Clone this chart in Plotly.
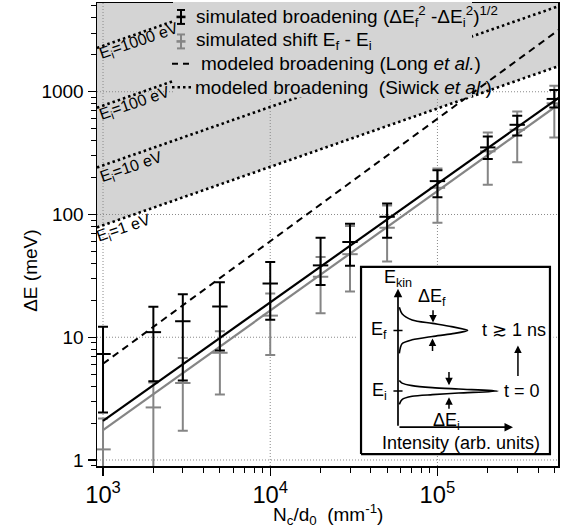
import numpy as np
import plotly.graph_objects as go

# ---------------- data ----------------
N = [1e3, 2e3, 3e3, 5e3, 1e4, 2e4, 3e4, 5e4, 1e5, 2e5, 3e5, 5e5]
broad = [7.3, 11.0, 13.5, 17.8, 27.4, 38.5, 59.7, 95.8, 187, 352, 538, 874]
broad_hi = [12.2, 17.7, 22.4, 28.0, 41.1, 64.7, 84, 123, 229, 432, 637, 1033]
broad_lo = [2.44, 4.37, 4.45, 7.8, 13.9, 26.6, 38.2, 64.7, 138, 283, 440, 743]
shift = [1.22, 2.68, 4.24, 7.47, 15.0, 31.1, 47.5, 78, 165, 327, 490, 805]
shift_hi = [2.18, 4.27, 6.76, 11.2, 22.7, 45.1, 80.5, 118.5, 237, 466, 690, 1120]
shift_lo = [0.5, 0.5, 1.73, 3.41, 7.15, 15.7, 23.6, 41.4, 85.7, 175, 266, 424]

fit_N = [1e3, 5.3e5]
fit_broad = [2.08, 891]
fit_shift = [1.75, 787]
long_N = [1e3, 5.3e5]
long_model = [6.08, 3185]

siwick_N = [920, 5.3e5]
siwick_Ei = ["1", "10", "100", "1000"]
siwick_vals = {
    "1": [78.5, 1617],
    "10": [241.5, 4980],
    "100": [741, 15280],
    "1000": [2275, 46900],
}
siwick_label_logN = {"1": 3.125, "10": 3.168, "100": 3.193, "1000": 3.213}
siwick_label_shift = {"1": -11, "10": -11.5, "100": -9.5, "1000": -8.5}

x_ticks = [1e3, 1e4, 1e5]
y_ticks = [1, 10, 100, 1000]

# inset schematic (intensity, energy offset from peak centre)
peak_f_I = [0.013, 0.04, 0.14, 0.34, 0.53, 0.69, 0.53, 0.34, 0.14, 0.04, 0.013]
peak_f_dE = [0.38, 0.275, 0.172, 0.116, 0.062, 0.0, -0.057, -0.10, -0.156, -0.22, -0.38]
peak_i_I = [0.013, 0.04, 0.14, 0.34, 0.60, 0.99, 0.60, 0.34, 0.14, 0.04, 0.013]
peak_i_dE = [0.175, 0.131, 0.089, 0.056, 0.033, 0.0, -0.033, -0.059, -0.087, -0.141, -0.22]
E_f_level = 2.0
E_i_level = 1.0

# ---------------- geometry ----------------
XR = [2.964, 5.721]
YR = [-0.049, 3.723]
FONT = "Liberation Sans, Arial, sans-serif"
GRAY_FILL = "#d4d4d4"
GRAY = "#858585"

fig = go.Figure()

# shaded region above the Ei = 1 eV line
top = 10 ** (YR[1] + 0.5)
fig.add_trace(go.Scatter(
    x=[siwick_N[0], siwick_N[1], siwick_N[1], siwick_N[0]],
    y=[siwick_vals["1"][0], siwick_vals["1"][1], top, top],
    fill="toself", fillcolor=GRAY_FILL, line=dict(width=0), mode="lines",
    hoverinfo="skip", showlegend=False))

# grid lines (drawn as traces so they sit above the shading)
xl, xh = 10 ** XR[0], 10 ** XR[1]
yl, yh = 10 ** YR[0], 10 ** YR[1]
gx, gy = [], []
for t in x_ticks:
    gx += [t, t, None]
    gy += [yl, yh, None]
for t in y_ticks:
    gx += [xl, xh, None]
    gy += [t, t, None]
fig.add_trace(go.Scatter(x=gx, y=gy, mode="lines",
                         line=dict(color="#8a8a8a", width=1, dash="1px,2px"),
                         hoverinfo="skip", showlegend=False))

# Siwick lines
for e in siwick_Ei:
    fig.add_trace(go.Scatter(x=siwick_N, y=siwick_vals[e], mode="lines",
                             line=dict(color="black", width=2.6, dash="2.5px,3px"),
                             showlegend=False))

# Long model
fig.add_trace(go.Scatter(x=long_N, y=long_model, mode="lines",
                         line=dict(color="black", width=2, dash="7px,5px"),
                         showlegend=False))

# shift data (gray)
fig.add_trace(go.Scatter(
    x=N, y=shift, mode="markers",
    marker=dict(symbol="line-ew", size=11, line=dict(color=GRAY, width=2)),
    error_y=dict(type="data", symmetric=False,
                 array=[h - v for h, v in zip(shift_hi, shift)],
                 arrayminus=[v - l for v, l in zip(shift, shift_lo)],
                 color=GRAY, thickness=2, width=5),
    showlegend=False))
fig.add_trace(go.Scatter(x=fit_N, y=fit_shift, mode="lines",
                         line=dict(color=GRAY, width=2.2), showlegend=False))

# broadening data (black)
fig.add_trace(go.Scatter(
    x=N, y=broad, mode="markers",
    marker=dict(symbol="line-ew", size=11, line=dict(color="black", width=2)),
    error_y=dict(type="data", symmetric=False,
                 array=[h - v for h, v in zip(broad_hi, broad)],
                 arrayminus=[v - l for v, l in zip(broad, broad_lo)],
                 color="black", thickness=2, width=5),
    showlegend=False))
fig.add_trace(go.Scatter(x=fit_N, y=fit_broad, mode="lines",
                         line=dict(color="black", width=2.2), showlegend=False))

annotations = []
# Siwick labels
for e in siwick_Ei:
    lx = siwick_label_logN[e]
    a0, a1 = np.log10(siwick_N)
    b0, b1 = np.log10(siwick_vals[e])
    ly = b0 + (b1 - b0) * (lx - a0) / (a1 - a0)
    annotations.append(dict(
        x=lx, y=ly, xref="x", yref="y", text=f"E<sub>i</sub>={e} eV",
        showarrow=False, textangle=-19, yshift=siwick_label_shift[e],
        font=dict(family=FONT, size=16, color="black"),
        xanchor="center", yanchor="middle"))

# ---------------- inset ----------------
IX = [-0.40, 1.54]
IY = [-0.07, 3.08]
box_x = [-0.366, 1.505, 1.505, -0.366, -0.366]
box_y = [-0.039, -0.039, 3.048, 3.048, -0.039]
fig.add_trace(go.Scatter(x=box_x, y=box_y, xaxis="x2", yaxis="y2", mode="lines",
                         fill="toself", fillcolor="white",
                         line=dict(color="black", width=2.2), showlegend=False))
fig.add_trace(go.Scatter(x=peak_f_I, y=[E_f_level + d for d in peak_f_dE],
                         xaxis="x2", yaxis="y2", mode="lines",
                         line=dict(color="black", width=1.6, shape="spline", smoothing=0.8),
                         showlegend=False))
fig.add_trace(go.Scatter(x=peak_i_I, y=[E_i_level + d for d in peak_i_dE],
                         xaxis="x2", yaxis="y2", mode="lines",
                         line=dict(color="black", width=1.6, shape="spline", smoothing=0.8),
                         showlegend=False))
# ticks on the energy axis
fig.add_trace(go.Scatter(x=[-0.045, 0.045, None, -0.045, 0.045],
                         y=[E_f_level, E_f_level, None, E_i_level, E_i_level],
                         xaxis="x2", yaxis="y2", mode="lines",
                         line=dict(color="black", width=1.5), showlegend=False))


def arrow(x, y, ax, ay, w=1.5):
    return dict(x=x, y=y, ax=ax, ay=ay, xref="x2", yref="y2", axref="x2", ayref="y2",
                showarrow=True, arrowhead=2, arrowsize=1, arrowwidth=w,
                arrowcolor="black", text="", standoff=0, startstandoff=0)


annotations += [
    arrow(0, 2.686, 0, 0.404, 1.7),
    arrow(1.139, 0.404, 0, 0.404, 1.7),
    arrow(0.347, 2.128, 0.347, 2.358),
    arrow(0.342, 1.866, 0.342, 1.636),
    arrow(0.505, 1.094, 0.505, 1.340),
    arrow(0.505, 0.897, 0.505, 0.683),
    arrow(1.188, 1.750, 1.188, 1.225),
]


def itext(x, y, t, xa="center", size=18):
    return dict(x=x, y=y, xref="x2", yref="y2", text=t, showarrow=False,
                xanchor=xa, yanchor="middle",
                font=dict(family=FONT, size=size, color="black"))


annotations += [
    itext(0.0, 2.86, "E<sub>kin</sub>"),
    itext(-0.085, E_f_level, "E<sub>f</sub>", "right"),
    itext(-0.085, E_i_level, "E<sub>i</sub>", "right"),
    itext(0.337, 2.54, "ΔE<sub>f</sub>"),
    itext(0.485, 0.50, "ΔE<sub>i</sub>"),
    itext(1.15, E_f_level, "t ≳ 1 ns"),
    itext(1.03, E_i_level, "t = 0", "left"),
    itext(0.624, 0.15, "Intensity (arb. units)"),
]

# ---------------- legend (drawn manually) ----------------
def px(xp):
    return (xp - 97) / 461


def py(yp):
    return (466 - yp) / 465


shapes = [dict(type="rect", xref="paper", yref="paper", x0=px(173), x1=px(472),
               y0=py(96), y1=py(0), fillcolor=GRAY_FILL, line=dict(width=0),
               layer="above")]


def glyph(cy, color):
    out = []
    for (x0, y0, x1, y1, w) in [(181, cy - 7, 181, cy + 7, 2.0),
                                (177, cy - 7, 185, cy - 7, 2.0),
                                (177, cy + 7, 185, cy + 7, 2.0),
                                (176.5, cy, 185.5, cy, 2.6)]:
        out.append(dict(type="line", xref="paper", yref="paper",
                        x0=px(x0), y0=py(y0), x1=px(x1), y1=py(y1),
                        line=dict(color=color, width=w), layer="above"))
    return out


shapes += glyph(15, "black")
shapes += glyph(39.6, GRAY)
shapes += [dict(type="line", xref="paper", yref="paper", x0=px(172), x1=px(178),
                y0=py(62), y1=py(62), line=dict(color="black", width=2), layer="above"),
           dict(type="line", xref="paper", yref="paper", x0=px(183), x1=px(189),
                y0=py(62), y1=py(62), line=dict(color="black", width=2), layer="above"),
           dict(type="line", xref="paper", yref="paper", x0=px(172), x1=px(191),
                y0=py(85.6), y1=py(85.6), line=dict(color="black", width=2.5, dash="2.5px,3px"),
                layer="above")]

LF = dict(family=FONT, size=19, color="black")
legend_items = [
    (194, 15, "simulated broadening (ΔE<sub>f</sub><sup>2</sup> -ΔE<sub>i</sub><sup>2</sup>)<sup>1/2</sup>"),
    (194, 39.6, "simulated shift E<sub>f</sub> - E<sub>i</sub>"),
    (199, 62, "modeled broadening (Long <i>et al.</i>)"),
    (193, 85.6, "modeled broadening  (Siwick <i>et al.</i>)"),
]
for xp, yp, t in legend_items:
    annotations.append(dict(x=px(xp), y=py(yp), xref="paper", yref="paper", text=t,
                            showarrow=False, xanchor="left", yanchor="middle", font=LF))

# axis titles
annotations.append(dict(x=0.5, y=py(515), xref="paper", yref="paper",
                        text="N<sub>c</sub>/d<sub>0</sub>  (mm<sup>-1</sup>)",
                        showarrow=False, xanchor="center", yanchor="middle", font=LF))
annotations.append(dict(x=px(31), y=py(270), xref="paper", yref="paper",
                        text="ΔE (meV)", textangle=-90,
                        showarrow=False, xanchor="center", yanchor="middle", font=LF))

axis_common = dict(type="log", showline=True, linecolor="black", linewidth=1.5, mirror=True,
                   ticks="outside", ticklen=8, tickwidth=1.3, tickcolor="black",
                   showgrid=False, zeroline=False, tickmode="linear", tick0=0, dtick=1,
                   tickfont=dict(family=FONT, size=19, color="black"),
                   minor=dict(ticks="outside", ticklen=5, tickwidth=1, tickcolor="black",
                              dtick="D1", showgrid=False))

fig.update_layout(
    width=567, height=530,
    margin=dict(l=97, r=9, t=1, b=64),
    paper_bgcolor="white", plot_bgcolor="white",
    showlegend=False,
    xaxis=dict(range=XR, exponentformat="power", **axis_common),
    yaxis=dict(range=YR, exponentformat="none", **axis_common),
    xaxis2=dict(domain=[0.5653, 0.9902], range=IX, visible=False, anchor="y2"),
    yaxis2=dict(domain=[0.0217, 0.4344], range=IY, visible=False, anchor="x2"),
    annotations=annotations,
    shapes=shapes,
    font=dict(family=FONT, color="black"),
)

fig.write_html("out.html",
               config={"displayModeBar": False, "staticPlot": True},
               post_script="document.body.style.margin='0';document.body.style.padding='0';")
